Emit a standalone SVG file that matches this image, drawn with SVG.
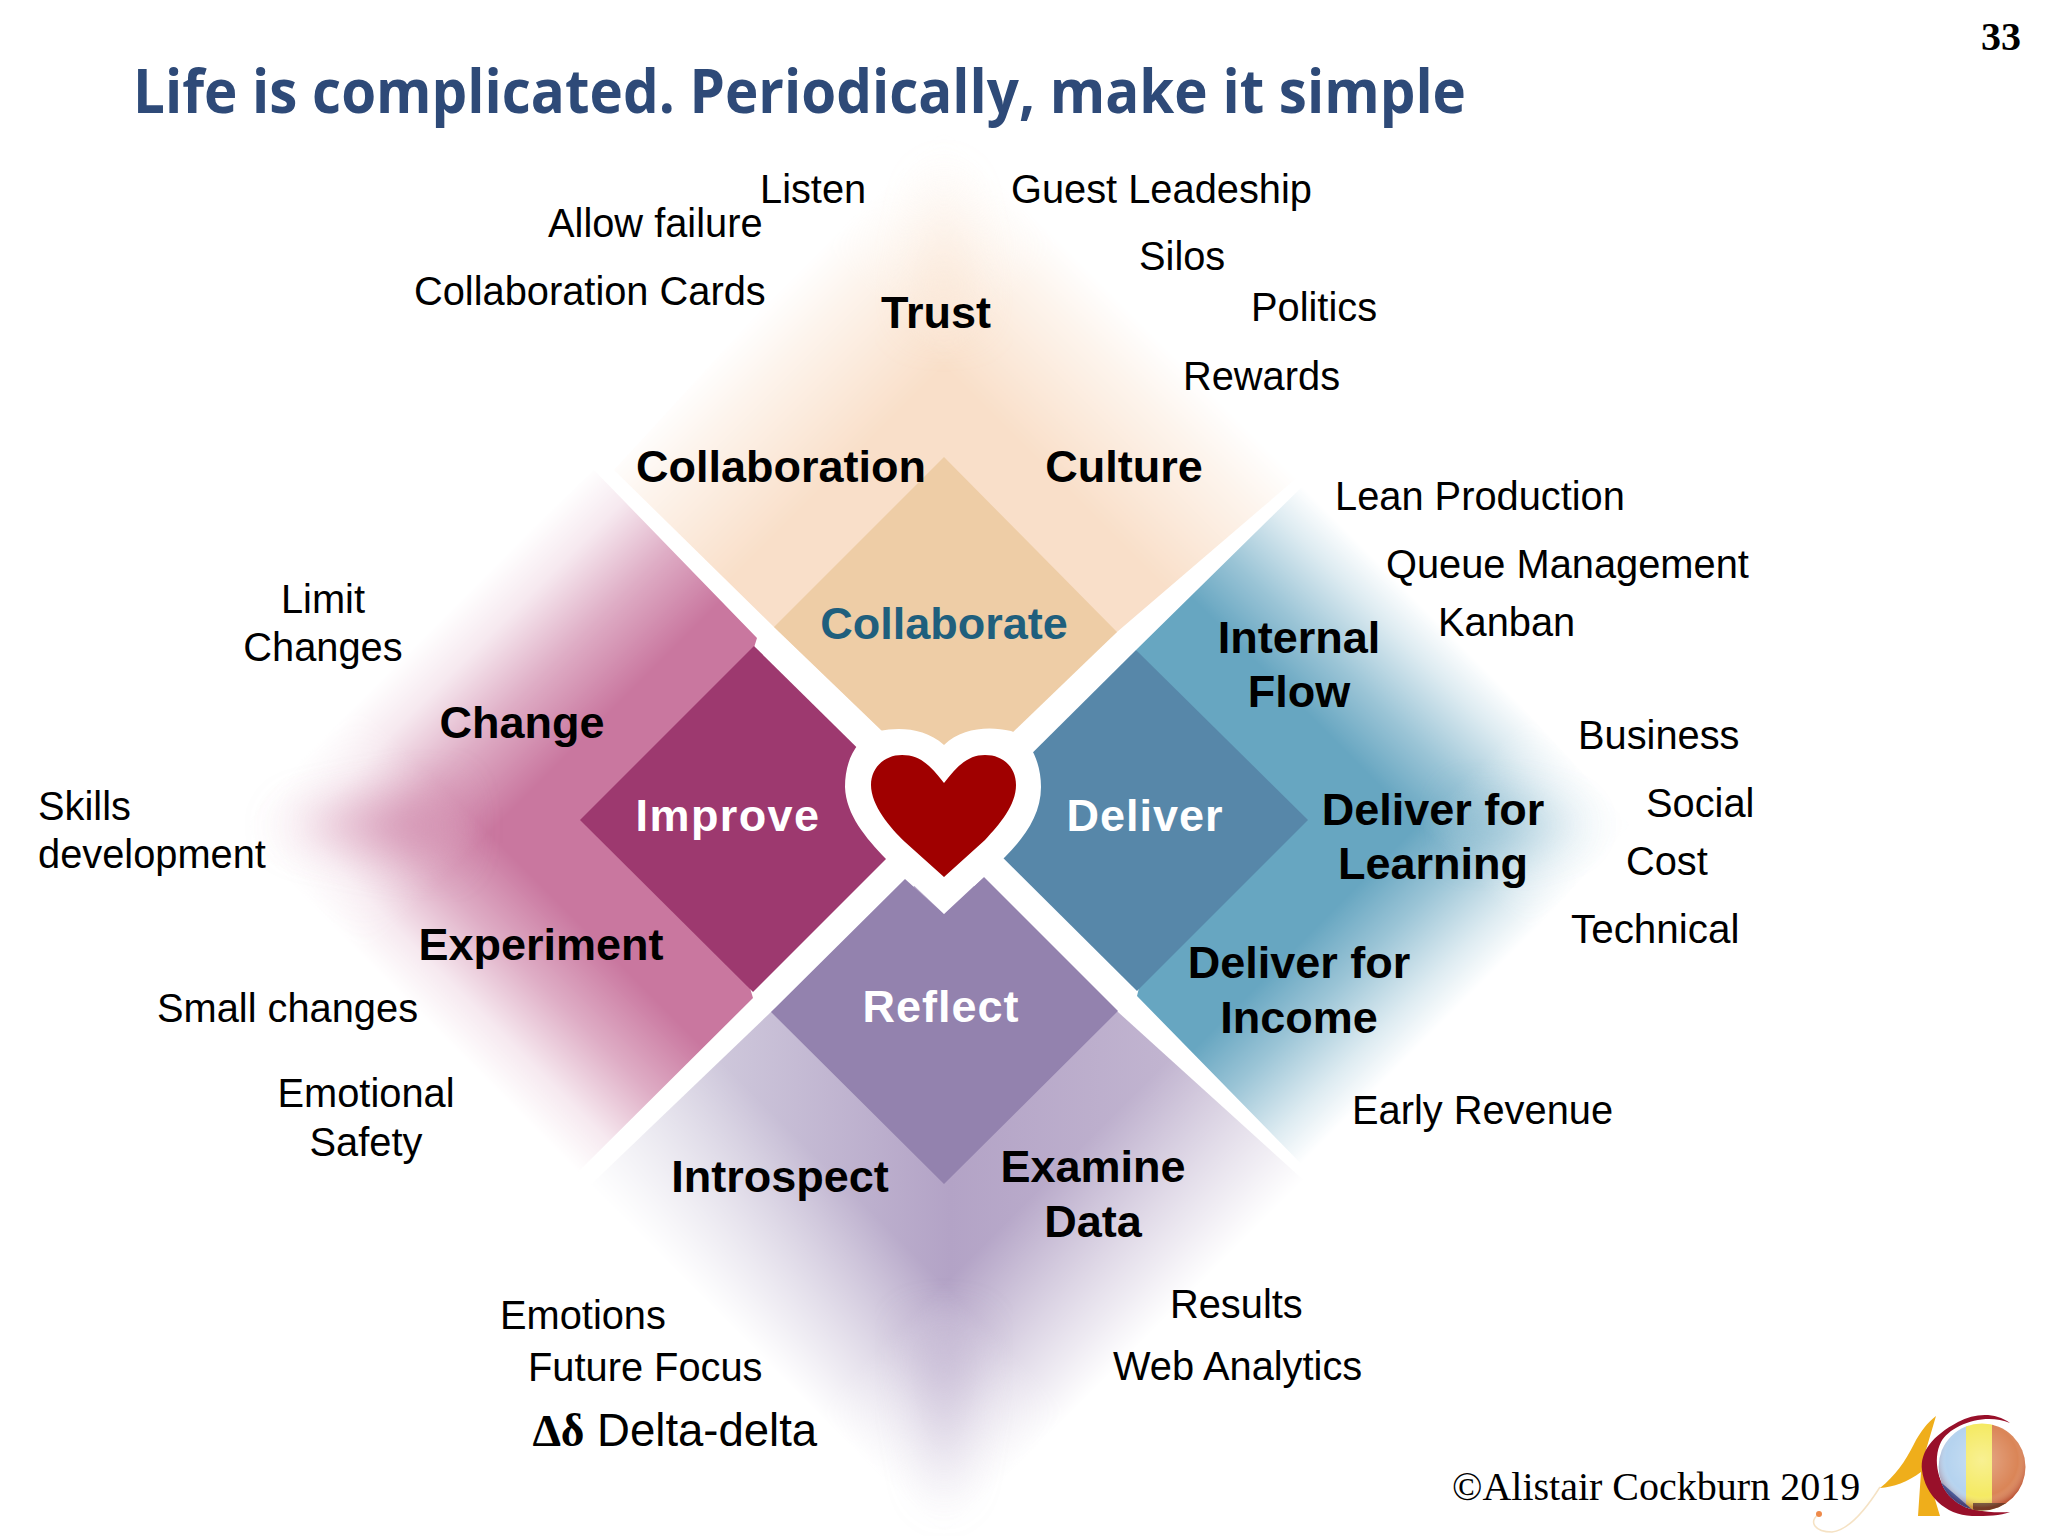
<svg xmlns="http://www.w3.org/2000/svg" width="2048" height="1536" viewBox="0 0 2048 1536">
<style>
text{font-family:"Liberation Sans",Arial,sans-serif;fill:#000}
.r{font-size:39.8px}
.c{text-anchor:middle}
.b{font-size:45px;font-weight:700;text-anchor:middle}
.w{fill:#fff;letter-spacing:1px}
.s{font-family:"Liberation Serif","Times New Roman",serif}
</style>
<defs>
<filter id="ridge" x="-60%" y="-60%" width="220%" height="220%"><feGaussianBlur stdDeviation="24"/></filter>
<linearGradient id="gIa" gradientUnits="userSpaceOnUse" x1="414" y1="646" x2="545" y2="777"><stop offset="0" stop-color="#000"/><stop offset=".25" stop-color="#2a2a2a"/><stop offset=".6" stop-color="#999"/><stop offset="1" stop-color="#fff"/></linearGradient>
<linearGradient id="gIb" gradientUnits="userSpaceOnUse" x1="405" y1="999" x2="530" y2="874"><stop offset="0" stop-color="#000"/><stop offset=".25" stop-color="#2a2a2a"/><stop offset=".6" stop-color="#999"/><stop offset="1" stop-color="#fff"/></linearGradient>
<linearGradient id="gCa" gradientUnits="userSpaceOnUse" x1="779" y1="290" x2="900" y2="411"><stop offset="0" stop-color="#000"/><stop offset=".3" stop-color="#555"/><stop offset="1" stop-color="#fff"/></linearGradient>
<linearGradient id="gCb" gradientUnits="userSpaceOnUse" x1="1109" y1="290" x2="988" y2="411"><stop offset="0" stop-color="#000"/><stop offset=".3" stop-color="#555"/><stop offset="1" stop-color="#fff"/></linearGradient>
<linearGradient id="gDa" gradientUnits="userSpaceOnUse" x1="1466" y1="650" x2="1355" y2="761"><stop offset="0" stop-color="#000"/><stop offset=".25" stop-color="#3a3a3a"/><stop offset=".65" stop-color="#aaa"/><stop offset="1" stop-color="#fff"/></linearGradient>
<linearGradient id="gDb" gradientUnits="userSpaceOnUse" x1="1466" y1="999" x2="1355" y2="888"><stop offset="0" stop-color="#000"/><stop offset=".25" stop-color="#3a3a3a"/><stop offset=".65" stop-color="#aaa"/><stop offset="1" stop-color="#fff"/></linearGradient>
<linearGradient id="gRa" gradientUnits="userSpaceOnUse" x1="767" y1="1363" x2="895" y2="1235"><stop offset="0" stop-color="#000"/><stop offset=".25" stop-color="#444"/><stop offset="1" stop-color="#fff"/></linearGradient>
<linearGradient id="gRb" gradientUnits="userSpaceOnUse" x1="1121" y1="1363" x2="993" y2="1235"><stop offset="0" stop-color="#000"/><stop offset=".25" stop-color="#444"/><stop offset="1" stop-color="#fff"/></linearGradient>
<linearGradient id="fillR" gradientUnits="userSpaceOnUse" x1="600" y1="0" x2="1300" y2="0"><stop offset="0" stop-color="#dcdae6"/><stop offset=".5" stop-color="#b3a3c6"/><stop offset="1" stop-color="#cabfd6"/></linearGradient>
<mask id="mIa" maskUnits="userSpaceOnUse" x="0" y="0" width="2048" height="1536"><rect width="2048" height="1536" fill="url(#gIa)"/></mask>
<mask id="mIb" maskUnits="userSpaceOnUse" x="0" y="0" width="2048" height="1536"><rect width="2048" height="1536" fill="url(#gIb)"/></mask>
<mask id="mCa" maskUnits="userSpaceOnUse" x="0" y="0" width="2048" height="1536"><rect width="2048" height="1536" fill="url(#gCa)"/></mask>
<mask id="mCb" maskUnits="userSpaceOnUse" x="0" y="0" width="2048" height="1536"><rect width="2048" height="1536" fill="url(#gCb)"/></mask>
<mask id="mDa" maskUnits="userSpaceOnUse" x="0" y="0" width="2048" height="1536"><rect width="2048" height="1536" fill="url(#gDa)"/></mask>
<mask id="mDb" maskUnits="userSpaceOnUse" x="0" y="0" width="2048" height="1536"><rect width="2048" height="1536" fill="url(#gDb)"/></mask>
<mask id="mRa" maskUnits="userSpaceOnUse" x="0" y="0" width="2048" height="1536"><rect width="2048" height="1536" fill="url(#gRa)"/></mask>
<mask id="mRb" maskUnits="userSpaceOnUse" x="0" y="0" width="2048" height="1536"><rect width="2048" height="1536" fill="url(#gRb)"/></mask>
<clipPath id="ball"><circle cx="1982" cy="1467" r="43.5"/></clipPath>
<radialGradient id="shade" cx="50%" cy="42%" r="55%"><stop offset="0" stop-color="#fff" stop-opacity=".3"/><stop offset=".75" stop-color="#fff" stop-opacity="0"/><stop offset="1" stop-color="#800" stop-opacity=".35"/></radialGradient>
</defs>
<rect width="2048" height="1536" fill="#fff"/>
<g id="outer-collaborate">
<g mask="url(#mCa)"><g mask="url(#mCb)"><polygon points="614,470 774,627 944,790 1117,632 1306,470 944,110" fill="#f9dfc9"/></g></g>
<polygon points="944,170 975,320 913,320" fill="#f9dfc9" opacity=".5" filter="url(#ridge)"/>
</g>
<g id="outer-improve">
<g mask="url(#mIa)"><g mask="url(#mIb)"><polygon points="594,470 757,638 700,820 753,998 575,1175 220,825" fill="#c9779f"/></g></g>
<polygon points="275,825 450,790 450,860" fill="#c9779f" opacity=".6" filter="url(#ridge)"/>
</g>
<g id="outer-deliver">
<g mask="url(#mDa)"><g mask="url(#mDb)"><polygon points="1312,477 1136,650 1180,820 1137,996 1312,1175 1630,825" fill="#67a6c1"/></g></g>
<polygon points="1590,825 1460,795 1460,855" fill="#67a6c1" opacity=".45" filter="url(#ridge)"/>
</g>
<g id="outer-reflect">
<g mask="url(#mRa)"><g mask="url(#mRb)"><polygon points="580,1195 771,1012 944,860 1118,1012 1320,1195 944,1536" fill="url(#fillR)"/></g></g>
<polygon points="944,1510 975,1330 913,1330" fill="#b3a3c6" opacity=".5" filter="url(#ridge)"/>
</g>
<g id="node-collaborate">
<polygon points="944,457 1117,632 1011,734 944,790 882,731 774,627" fill="#eecda6"/>
<text class="b" x="944" y="639" style="fill:#1f5f7d">Collaborate</text>
</g>
<g id="node-improve">
<polygon points="580,820 754,646 905,795 915,830 753,992" fill="#9d396f"/>
<text class="b w" x="728" y="831" style="letter-spacing:1.4px">Improve</text>
</g>
<g id="node-deliver">
<polygon points="1308,820 1136,650 990,795 975,830 1137,991" fill="#5787a9"/>
<text class="b w" x="1145" y="831">Deliver</text>
</g>
<g id="node-reflect">
<polygon points="771,1012 905,879 944,914 984,877 1118,1011 944,1184" fill="#9382ae"/>
<text class="b w" x="941" y="1022">Reflect</text>
</g>
<g id="heart">
<path d="M944 745C925 728 900 727 879 731C855 738 845 762 845 787C846 815 866 838 886 859L944 914L1005 857C1024 838 1041 815 1041 787C1041 762 1030 738 1011 731C988 726 962 728 944 745Z" fill="#fff"/>
<path d="M944 783C930 765 920 755 902 755C884 755 871 768 871 785C871 805 890 828 905 842L944 877L985 840C1000 824 1016 805 1016 785C1016 768 1004 755 985 755C968 755 957 766 944 783Z" fill="#a00000"/>
</g>
<g id="title"><text x="133" y="113" textLength="1333" lengthAdjust="spacingAndGlyphs" style="font-family:'Open Sans',sans-serif;font-size:61px;font-weight:700;fill:#2e4a78">Life is complicated. Periodically, make it simple</text></g>
<text x="2021" y="50" text-anchor="end" class="s" style="font-size:40px;font-weight:700">33</text>
<g id="labels-bold">
<text class="b" x="936" y="328">Trust</text>
<text class="b" x="781" y="482">Collaboration</text>
<text class="b" x="1124" y="482">Culture</text>
<text class="b" x="1299" y="653">Internal</text><text class="b" x="1299" y="707">Flow</text>
<text class="b" x="1433" y="825">Deliver for</text><text class="b" x="1433" y="879">Learning</text>
<text class="b" x="1299" y="978">Deliver for</text><text class="b" x="1299" y="1033">Income</text>
<text class="b" x="1093" y="1182">Examine</text><text class="b" x="1093" y="1237">Data</text>
<text class="b" x="780" y="1192">Introspect</text>
<text class="b" x="522" y="738">Change</text>
<text class="b" x="541" y="960">Experiment</text>
</g>
<g id="labels-regular" class="r">
<text x="760" y="203">Listen</text>
<text x="548" y="237">Allow failure</text>
<text x="414" y="305">Collaboration Cards</text>
<text x="1011" y="203">Guest Leadeship</text>
<text x="1139" y="270">Silos</text>
<text x="1251" y="321">Politics</text>
<text x="1183" y="390">Rewards</text>
<text x="1335" y="510">Lean Production</text>
<text x="1386" y="578">Queue Management</text>
<text x="1438" y="636">Kanban</text>
<text x="1578" y="749">Business</text>
<text x="1646" y="817">Social</text>
<text x="1626" y="875">Cost</text>
<text x="1571" y="943" style="font-size:40.4px">Technical</text>
<text x="1352" y="1124">Early Revenue</text>
<text x="1170" y="1318">Results</text>
<text x="1113" y="1380">Web Analytics</text>
<text x="500" y="1329">Emotions</text>
<text x="528" y="1381">Future Focus</text>
<text class="c" x="323" y="613">Limit</text><text class="c" x="323" y="661">Changes</text>
<text x="38" y="820">Skills</text><text x="38" y="868">development</text>
<text x="157" y="1022">Small changes</text>
<text class="c" x="366" y="1107">Emotional</text><text class="c" x="366" y="1156">Safety</text>
<text x="533" y="1446" style="font-size:45.5px"><tspan class="s" style="font-weight:700">∆δ</tspan> Delta-delta</text>
</g>
<text x="1452" y="1500" class="s" style="font-size:40px">©Alistair Cockburn 2019</text>
<g id="logo">
<path d="M1819 1514C1808 1522 1815 1532 1832 1532C1850 1530 1868 1506 1880 1487" fill="none" stroke="#f5e2c4" stroke-width="1.5"/>
<path d="M1936 1416C1928 1422 1920 1432 1914 1444C1905 1462 1895 1476 1880 1488C1893 1487 1908 1482 1921 1472L1918 1516L1940 1516L1923 1460Z" fill="#efae1b"/>
<circle cx="1819" cy="1514" r="3" fill="#ee8a4a"/>
<path d="M2010 1423C1995 1412 1975 1413 1958 1422C1932 1436 1920 1452 1922 1470C1925 1495 1945 1515 1972 1516C1988 1516 2000 1516 2010 1512C1992 1513 1970 1512 1955 1500C1938 1486 1932 1460 1941 1442C1950 1425 1985 1412 2010 1423Z" fill="#98102a"/>
<g clip-path="url(#ball)">
<rect x="1935" y="1420" width="34" height="95" fill="#b5d3ef"/>
<rect x="1966" y="1420" width="28" height="95" fill="#f5ea63"/>
<rect x="1992" y="1420" width="40" height="95" fill="#da8557"/>
<path d="M1936 1478L1975 1512H1930Z" fill="#2a63b5"/>
<rect x="1973" y="1503" width="46" height="8" fill="#6a5a3a"/>
<circle cx="1982" cy="1467" r="43.5" fill="url(#shade)"/>
</g>
</g>
</svg>
